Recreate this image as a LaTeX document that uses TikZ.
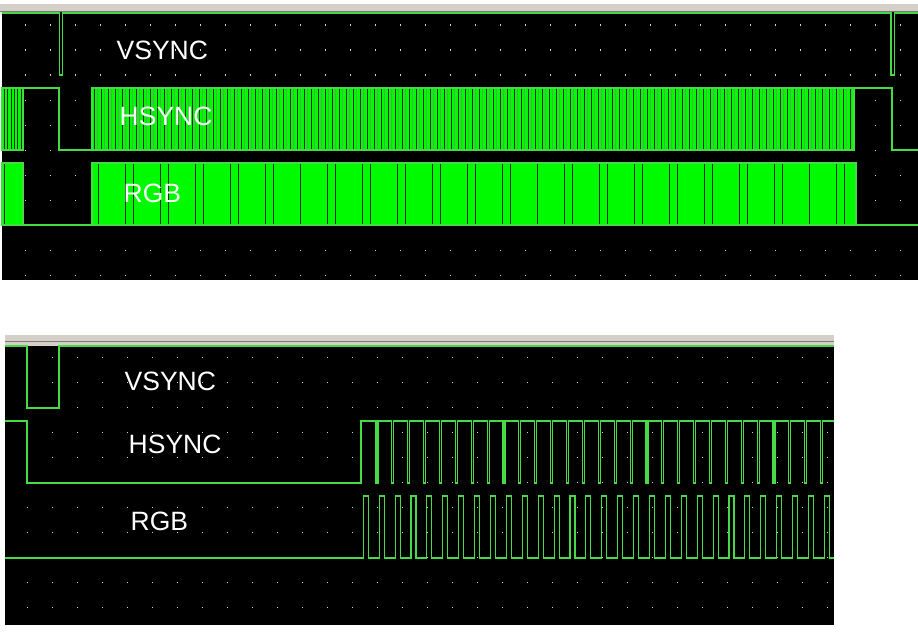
\documentclass[tikz,border=0pt]{standalone}
\usepackage{fontspec}
\setmainfont{Liberation Sans}
\definecolor{tracegreen}{RGB}{70,218,70}
\definecolor{fillgreen}{RGB}{0,250,0}
\definecolor{barkgray}{RGB}{212,208,200}
\definecolor{barline}{RGB}{120,120,120}
\definecolor{dotgray}{RGB}{215,215,215}
\definecolor{darkstripe}{RGB}{10,40,10}
\definecolor{midstripe}{RGB}{80,170,80}
\newcommand\hperiod{15.88}
\newcommand\rperiod{15.9}
\newcommand\griddots[4]{
  \foreach \gx in {0,...,#3}
    \foreach \gy in {0,...,#4}
      \fill[dotgray] ({#1+25*\gx},{#2+25*\gy}) rectangle ++(1.2,1.2) ;
}
\tikzset{
  trace/.style={draw=tracegreen, line width=1.1pt},
  busyfill/.style={fill=fillgreen},
  stripe/.style={line width=0.9pt, darkstripe},
  softstripe/.style={line width=0.8pt, midstripe},
  siglabel/.style={text=white, font=\fontsize{26.5}{30}\selectfont, inner sep=0pt, anchor=west}
}
\begin{document}
\begin{tikzpicture}[x=1pt, y=-1pt]
    \useasboundingbox (0,0) rectangle (918,634) ;
    \begin{scope} % whole frame
      \fill[barkgray] (0,4) rectangle (918,12) ;
      \draw[barline] (0,11.5) -- (918,11.5) ;
      \fill[black] (2,12.5) rectangle (918,280) ;
      \griddots{24.5}{24.5}{35}{10}
      \draw[trace] (2,13) -- (59.5,13) -- ++(0,62) -- ++(3,0) -- ++(0,-62) -- (891,13) -- ++(0,62) -- ++(3.5,0) -- ++(0,-62) -- (918,13) ;
      \draw[trace, busyfill] (2,88) rectangle (23,150) ;
      \foreach \i in {0,...,5} \draw[stripe] ({4.5+3.3*\i},89) -- ++(0,60) ;
      \draw[trace] (23,88) -- (59,88) -- (59,150) -- (92,150) ;
      \draw[trace, busyfill] (92,88) rectangle (854,150) ;
      \foreach \i in {0,...,108} \draw[stripe] ({94+7*\i},89) -- ++(0,60) ;
      \foreach \i in {0,...,107} \draw[softstripe] ({97.5+7*\i},89) -- ++(0,60) ;
      \draw[trace] (854,88) -- (892,88) -- (892,150) -- (918,150) ;
      \draw[trace, busyfill] (2,163) rectangle (23,225) ;
      \draw[stripe] (4,164) -- ++(0,60) ;
      \draw[trace] (23,225) -- (92,225) ;
      \draw[trace, busyfill] (92,163) rectangle (856,225) ;
      \foreach \s in {98.3, 125, 133.3, 160.7, 168.3, 195.7, 203.3, 230.7, 238.3, 265.7, 273.3, 300.7,
                      327.3, 335, 362.3, 370.7, 397.3, 405.3, 432.7, 440.7, 467.3, 475.3, 502.3, 510.3,
                      537.3, 564.3, 572.3, 599.3, 607.3, 634.7, 642.7, 669.3, 677.3, 704.7, 712.7,
                      739.3, 747.3, 774.3, 782.7, 809.3, 836.7, 844.7}
        \draw[stripe] (\s,164) -- ++(0,60) ;
      \draw[trace] (856,225) -- (918,225) ;
      \node[siglabel] (vsyncall) at (116.5,50.5) {VSYNC} ;
      \node[siglabel] (hsyncall) at (119.5,116.7) {HSYNC} ;
      \node[siglabel] (rgball) at (123.5,193.7) {RGB} ;
    \end{scope}
    \begin{scope} % few lines, zoomed in
      \fill[barkgray] (5,335) rectangle (834,345.5) ;
      \draw[barline] (5,341) -- (834,341) ;
      \fill[black] (5,345.5) rectangle (834,625) ;
      \griddots{26.7}{356.7}{32}{10}
      \draw[trace] (5,346) -- (27,346) -- (27,408) -- (59,408) -- (59,346) -- (834,346) ;
      \draw[trace] (5,421) -- (27,421) -- (27,483) -- (361,483) -- (361,421)
        foreach \k in {0,...,28} { -- ({376+\hperiod*\k},421) -- ++(0,62) -- ++(2,0) -- ++(0,-62) }
        -- (834,421) ;
      \draw[trace] (5,558) foreach \k in {0,...,29} { -- ({363.3+\rperiod*\k},558) -- ++(0,-62) -- ++(5,0) -- ++(0,62) }
        -- (834,558) ;
      \node[siglabel] (vsynczoom) at (124.5,381) {VSYNC} ;
      \node[siglabel] (hsynczoom) at (128.5,444) {HSYNC} ;
      \node[siglabel] (rgbzoom) at (130.5,521) {RGB} ;
    \end{scope}
\end{tikzpicture}
\end{document}
